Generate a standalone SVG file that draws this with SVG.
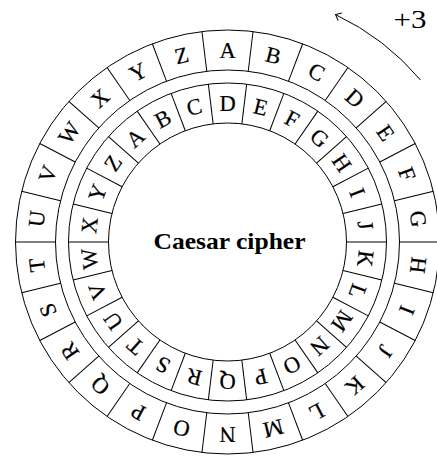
<svg xmlns="http://www.w3.org/2000/svg" xmlns:xlink="http://www.w3.org/1999/xlink" width="437" height="458" viewBox="0 0 437 458">
<style>
.ring{fill:none;stroke:#000;stroke-width:1}
.div{stroke:#000;stroke-width:1}
.l{font-family:"Liberation Serif","DejaVu Serif",serif;font-size:22.5px;text-anchor:middle;fill:#000;stroke:#000;stroke-width:0.2}
.title{font-family:"Liberation Serif","DejaVu Serif",serif;font-size:23.5px;font-weight:bold;text-anchor:middle;fill:#000}
.lab{font-family:"Liberation Serif","DejaVu Serif",serif;font-size:25px;fill:#000}
.arc{fill:none;stroke:#000;stroke-width:1}
</style>
<defs>
<line id="dO" class="div" x1="0" y1="-212" x2="0" y2="-172"/>
<line id="dI" class="div" x1="0" y1="-159" x2="0" y2="-119"/>
<marker id="to" markerUnits="userSpaceOnUse" markerWidth="14" markerHeight="14" refX="0" refY="0" viewBox="-7 -7 14 14" orient="auto" overflow="visible">
<path d="M-5,-4.2 Q-1.2,-1 0,0 Q-1.2,1 -5,4.2" fill="none" stroke="#000" stroke-width="1"/>
</marker>
</defs>
<g transform="translate(227.5 242)">
<g id="outer-ring">
<circle class="ring" r="212"/>
<circle class="ring" r="172"/>
<use xlink:href="#dO" transform="rotate(6.9231)"/>
<use xlink:href="#dO" transform="rotate(20.7692)"/>
<use xlink:href="#dO" transform="rotate(34.6154)"/>
<use xlink:href="#dO" transform="rotate(48.4615)"/>
<use xlink:href="#dO" transform="rotate(62.3077)"/>
<use xlink:href="#dO" transform="rotate(76.1538)"/>
<use xlink:href="#dO" transform="rotate(90)"/>
<use xlink:href="#dO" transform="rotate(103.8462)"/>
<use xlink:href="#dO" transform="rotate(117.6923)"/>
<use xlink:href="#dO" transform="rotate(131.5385)"/>
<use xlink:href="#dO" transform="rotate(145.3846)"/>
<use xlink:href="#dO" transform="rotate(159.2308)"/>
<use xlink:href="#dO" transform="rotate(173.0769)"/>
<use xlink:href="#dO" transform="rotate(186.9231)"/>
<use xlink:href="#dO" transform="rotate(200.7692)"/>
<use xlink:href="#dO" transform="rotate(214.6154)"/>
<use xlink:href="#dO" transform="rotate(228.4615)"/>
<use xlink:href="#dO" transform="rotate(242.3077)"/>
<use xlink:href="#dO" transform="rotate(256.1538)"/>
<use xlink:href="#dO" transform="rotate(270)"/>
<use xlink:href="#dO" transform="rotate(283.8462)"/>
<use xlink:href="#dO" transform="rotate(297.6923)"/>
<use xlink:href="#dO" transform="rotate(311.5385)"/>
<use xlink:href="#dO" transform="rotate(325.3846)"/>
<use xlink:href="#dO" transform="rotate(339.2308)"/>
<use xlink:href="#dO" transform="rotate(353.0769)"/>
<g id="outer-A" transform="rotate(0)"><text class="l" y="-184.5">A</text></g>
<g id="outer-B" transform="rotate(13.8462)"><text class="l" y="-184.5">B</text></g>
<g id="outer-C" transform="rotate(27.6923)"><text class="l" y="-184.5">C</text></g>
<g id="outer-D" transform="rotate(41.5385)"><text class="l" y="-184.5">D</text></g>
<g id="outer-E" transform="rotate(55.3846)"><text class="l" y="-184.5">E</text></g>
<g id="outer-F" transform="rotate(69.2308)"><text class="l" y="-184.5">F</text></g>
<g id="outer-G" transform="rotate(83.0769)"><text class="l" y="-184.5">G</text></g>
<g id="outer-H" transform="rotate(96.9231)"><text class="l" y="-184.5">H</text></g>
<g id="outer-I" transform="rotate(110.7692)"><text class="l" y="-184.5">I</text></g>
<g id="outer-J" transform="rotate(124.6154)"><text class="l" y="-184.5">J</text></g>
<g id="outer-K" transform="rotate(138.4615)"><text class="l" y="-184.5">K</text></g>
<g id="outer-L" transform="rotate(152.3077)"><text class="l" y="-184.5">L</text></g>
<g id="outer-M" transform="rotate(166.1538)"><text class="l" y="-184.5">M</text></g>
<g id="outer-N" transform="rotate(180)"><text class="l" y="-184.5">N</text></g>
<g id="outer-O" transform="rotate(193.8462)"><text class="l" y="-184.5">O</text></g>
<g id="outer-P" transform="rotate(207.6923)"><text class="l" y="-184.5">P</text></g>
<g id="outer-Q" transform="rotate(221.5385)"><text class="l" y="-184.5">Q</text></g>
<g id="outer-R" transform="rotate(235.3846)"><text class="l" y="-184.5">R</text></g>
<g id="outer-S" transform="rotate(249.2308)"><text class="l" y="-184.5">S</text></g>
<g id="outer-T" transform="rotate(263.0769)"><text class="l" y="-184.5">T</text></g>
<g id="outer-U" transform="rotate(276.9231)"><text class="l" y="-184.5">U</text></g>
<g id="outer-V" transform="rotate(290.7692)"><text class="l" y="-184.5">V</text></g>
<g id="outer-W" transform="rotate(304.6154)"><text class="l" y="-184.5">W</text></g>
<g id="outer-X" transform="rotate(318.4615)"><text class="l" y="-184.5">X</text></g>
<g id="outer-Y" transform="rotate(332.3077)"><text class="l" y="-184.5">Y</text></g>
<g id="outer-Z" transform="rotate(346.1538)"><text class="l" y="-184.5">Z</text></g>
</g>
<g id="inner-ring">
<circle class="ring" r="159"/>
<circle class="ring" r="119"/>
<use xlink:href="#dI" transform="rotate(6.9231)"/>
<use xlink:href="#dI" transform="rotate(20.7692)"/>
<use xlink:href="#dI" transform="rotate(34.6154)"/>
<use xlink:href="#dI" transform="rotate(48.4615)"/>
<use xlink:href="#dI" transform="rotate(62.3077)"/>
<use xlink:href="#dI" transform="rotate(76.1538)"/>
<use xlink:href="#dI" transform="rotate(90)"/>
<use xlink:href="#dI" transform="rotate(103.8462)"/>
<use xlink:href="#dI" transform="rotate(117.6923)"/>
<use xlink:href="#dI" transform="rotate(131.5385)"/>
<use xlink:href="#dI" transform="rotate(145.3846)"/>
<use xlink:href="#dI" transform="rotate(159.2308)"/>
<use xlink:href="#dI" transform="rotate(173.0769)"/>
<use xlink:href="#dI" transform="rotate(186.9231)"/>
<use xlink:href="#dI" transform="rotate(200.7692)"/>
<use xlink:href="#dI" transform="rotate(214.6154)"/>
<use xlink:href="#dI" transform="rotate(228.4615)"/>
<use xlink:href="#dI" transform="rotate(242.3077)"/>
<use xlink:href="#dI" transform="rotate(256.1538)"/>
<use xlink:href="#dI" transform="rotate(270)"/>
<use xlink:href="#dI" transform="rotate(283.8462)"/>
<use xlink:href="#dI" transform="rotate(297.6923)"/>
<use xlink:href="#dI" transform="rotate(311.5385)"/>
<use xlink:href="#dI" transform="rotate(325.3846)"/>
<use xlink:href="#dI" transform="rotate(339.2308)"/>
<use xlink:href="#dI" transform="rotate(353.0769)"/>
<g id="inner-D" transform="rotate(0)"><text class="l" y="-131.5">D</text></g>
<g id="inner-E" transform="rotate(13.8462)"><text class="l" y="-131.5">E</text></g>
<g id="inner-F" transform="rotate(27.6923)"><text class="l" y="-131.5">F</text></g>
<g id="inner-G" transform="rotate(41.5385)"><text class="l" y="-131.5">G</text></g>
<g id="inner-H" transform="rotate(55.3846)"><text class="l" y="-131.5">H</text></g>
<g id="inner-I" transform="rotate(69.2308)"><text class="l" y="-131.5">I</text></g>
<g id="inner-J" transform="rotate(83.0769)"><text class="l" y="-131.5">J</text></g>
<g id="inner-K" transform="rotate(96.9231)"><text class="l" y="-131.5">K</text></g>
<g id="inner-L" transform="rotate(110.7692)"><text class="l" y="-131.5">L</text></g>
<g id="inner-M" transform="rotate(124.6154)"><text class="l" y="-131.5">M</text></g>
<g id="inner-N" transform="rotate(138.4615)"><text class="l" y="-131.5">N</text></g>
<g id="inner-O" transform="rotate(152.3077)"><text class="l" y="-131.5">O</text></g>
<g id="inner-P" transform="rotate(166.1538)"><text class="l" y="-131.5">P</text></g>
<g id="inner-Q" transform="rotate(180)"><text class="l" y="-131.5">Q</text></g>
<g id="inner-R" transform="rotate(193.8462)"><text class="l" y="-131.5">R</text></g>
<g id="inner-S" transform="rotate(207.6923)"><text class="l" y="-131.5">S</text></g>
<g id="inner-T" transform="rotate(221.5385)"><text class="l" y="-131.5">T</text></g>
<g id="inner-U" transform="rotate(235.3846)"><text class="l" y="-131.5">U</text></g>
<g id="inner-V" transform="rotate(249.2308)"><text class="l" y="-131.5">V</text></g>
<g id="inner-W" transform="rotate(263.0769)"><text class="l" y="-131.5">W</text></g>
<g id="inner-X" transform="rotate(276.9231)"><text class="l" y="-131.5">X</text></g>
<g id="inner-Y" transform="rotate(290.7692)"><text class="l" y="-131.5">Y</text></g>
<g id="inner-Z" transform="rotate(304.6154)"><text class="l" y="-131.5">Z</text></g>
<g id="inner-A" transform="rotate(318.4615)"><text class="l" y="-131.5">A</text></g>
<g id="inner-B" transform="rotate(332.3077)"><text class="l" y="-131.5">B</text></g>
<g id="inner-C" transform="rotate(346.1538)"><text class="l" y="-131.5">C</text></g>
</g>
</g>
<g id="center-label"><text class="title" x="229.5" y="248.5" textLength="152" lengthAdjust="spacingAndGlyphs">Caesar cipher</text></g>
<g id="shift-label"><text class="lab" x="393.5" y="28" textLength="33" lengthAdjust="spacingAndGlyphs">+3</text></g>
<g id="connectors">
<path class="arc" d="M420.5,80 A252,252 0 0 0 335.5,14.6" marker-end="url(#to)"/>
</g>
</svg>
